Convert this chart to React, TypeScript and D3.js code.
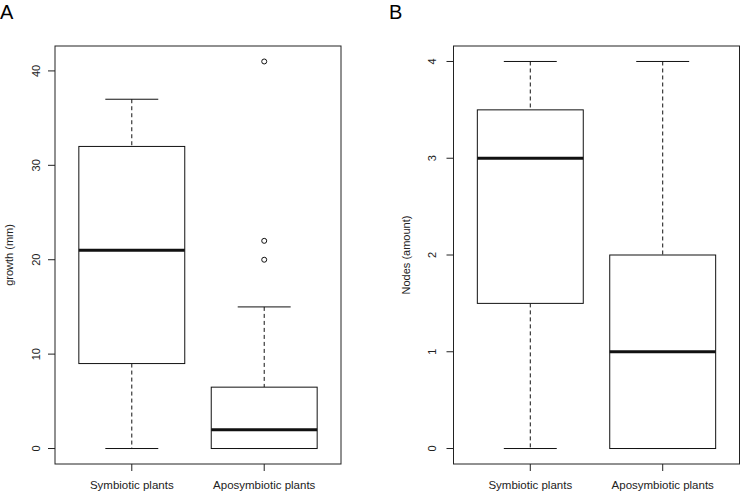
import * as d3 from 'd3';

const groups = ['Symbiotic plants', 'Aposymbiotic plants'];

// five-number summaries: [low whisker, q1, median, q3, high whisker]
const growthStats = [
  [0, 9, 21, 32, 37],
  [0, 0, 2, 6.5, 15],
];
const growthOutliers = [[], [20, 22, 41]];
const growthTicks = [0, 10, 20, 30, 40];

const nodeStats = [
  [0, 1.5, 3, 3.5, 4],
  [0, 0, 1, 2, 4],
];
const nodeOutliers = [[], []];
const nodeTicks = [0, 1, 2, 3, 4];

const FONT = 'Liberation Sans, Arial, sans-serif';

function BoxPanel({ left, right, letter, letterX, yLabel, yLabelX, tickLabelX, stats, outliers, ticks, yMax }) {
  const top = 46;
  const bottom = 464;
  // R style: 4% padding on both axes
  const x = d3.scaleLinear().domain([0.42, 2.58]).range([left, right]);
  const pad = yMax * 0.04;
  const y = d3.scaleLinear().domain([-pad, yMax + pad]).range([bottom, top]);
  const bw = x(1.4) - x(1);

  return (
    <g>
      <text x={letterX} y={19} fontSize={20} fontFamily={FONT} fill="#000">{letter}</text>
      <rect x={left} y={top} width={right - left} height={bottom - top} fill="none" stroke="#222" strokeWidth={1} />
      {stats.map((s, i) => {
        const cx = x(i + 1);
        const [lo, q1, med, q3, hi] = s;
        return (
          <g key={i} stroke="#111" fill="none">
            <line x1={cx} x2={cx} y1={y(hi)} y2={y(q3)} strokeDasharray="4,3" />
            <line x1={cx} x2={cx} y1={y(q1)} y2={y(lo)} strokeDasharray="4,3" />
            <line x1={cx - bw / 2} x2={cx + bw / 2} y1={y(hi)} y2={y(hi)} />
            <line x1={cx - bw / 2} x2={cx + bw / 2} y1={y(lo)} y2={y(lo)} />
            <rect x={cx - bw} y={y(q3)} width={bw * 2} height={y(q1) - y(q3)} fill="#fff" />
            <line x1={cx - bw} x2={cx + bw} y1={y(med)} y2={y(med)} strokeWidth={3} />
            {outliers[i].map((o, j) => (
              <circle key={j} cx={cx} cy={y(o)} r={2.5} strokeWidth={1} />
            ))}
          </g>
        );
      })}
      {ticks.map((t) => (
        <g key={t}>
          <line x1={left - 7} x2={left} y1={y(t)} y2={y(t)} stroke="#222" />
          <text
            transform={`translate(${tickLabelX},${y(t)}) rotate(-90)`}
            textAnchor="middle"
            dy="0.35em"
            fontSize={11}
            fontFamily={FONT}
            fill="#222"
          >
            {t}
          </text>
        </g>
      ))}
      <text
        transform={`translate(${yLabelX},${(top + bottom) / 2}) rotate(-90)`}
        textAnchor="middle"
        dy="0.35em"
        fontSize={11}
        fontFamily={FONT}
        fill="#222"
      >
        {yLabel}
      </text>
      {groups.map((g, i) => (
        <g key={g}>
          <line x1={x(i + 1)} x2={x(i + 1)} y1={bottom} y2={bottom + 7} stroke="#222" />
          <text x={x(i + 1)} y={489} textAnchor="middle" fontSize={11.5} fontFamily={FONT} fill="#222">
            {g}
          </text>
        </g>
      ))}
    </g>
  );
}

export default function App() {
  return (
    <svg width={740} height={492} style={{ position: 'absolute', left: 0, top: 0, background: '#fff' }}>
      <rect width={740} height={492} fill="#fff" />
      <BoxPanel
        left={55}
        right={341}
        letter="A"
        letterX={0}
        yLabel="growth (mm)"
        yLabelX={9}
        tickLabelX={36}
        stats={growthStats}
        outliers={growthOutliers}
        ticks={growthTicks}
        yMax={41}
      />
      <BoxPanel
        left={453.5}
        right={739.5}
        letter="B"
        letterX={389}
        yLabel="Nodes (amount)"
        yLabelX={406}
        tickLabelX={432}
        stats={nodeStats}
        outliers={nodeOutliers}
        ticks={nodeTicks}
        yMax={4}
      />
    </svg>
  );
}
